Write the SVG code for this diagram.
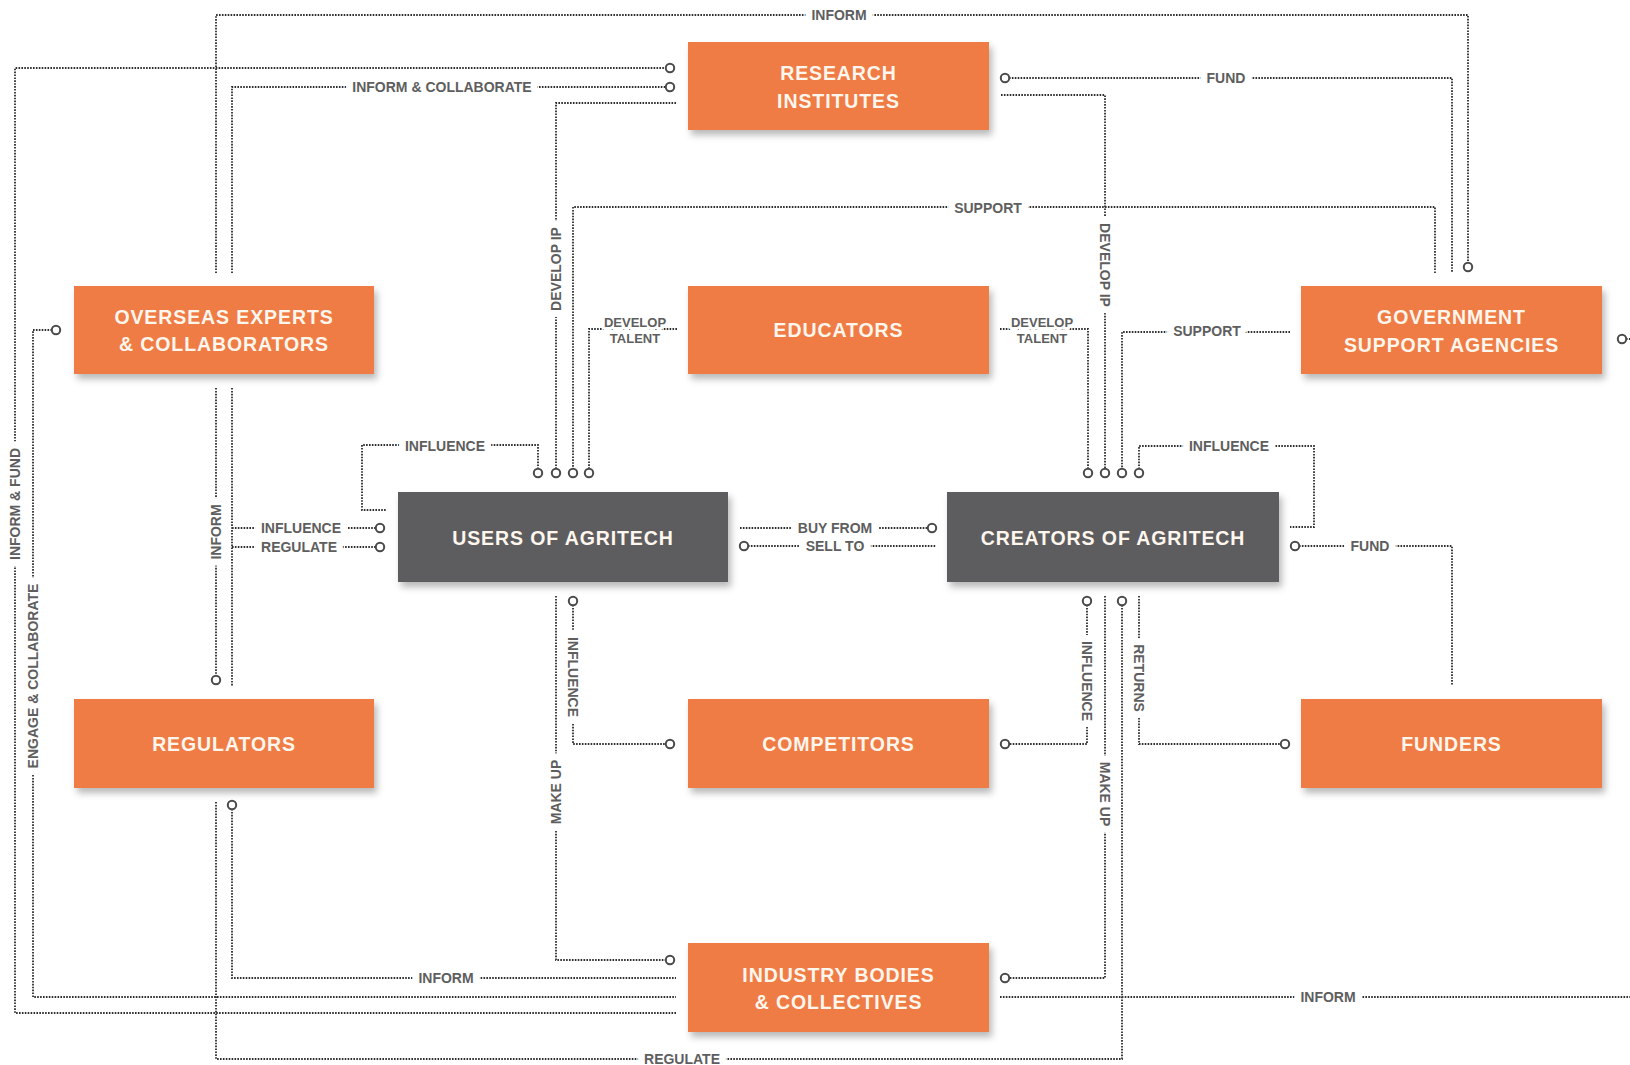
<svg xmlns="http://www.w3.org/2000/svg" width="1630" height="1065" viewBox="0 0 1630 1065">
<defs>
<filter id="sh" x="-10%" y="-20%" width="125%" height="150%">
<feDropShadow dx="3" dy="5" stdDeviation="3.5" flood-color="#000" flood-opacity="0.28"/>
</filter>
<style>
.box{fill:#F07B44;filter:url(#sh)}
.dark{fill:#5D5D60;filter:url(#sh)}
.nt{font-family:"Liberation Sans",Arial,sans-serif;font-weight:bold;font-size:19.5px;fill:#FFF6EE;text-anchor:middle;letter-spacing:0.9px}
.ln{fill:none;stroke:#2e2e2e;stroke-width:1.8;stroke-dasharray:1.6 1.3}
.dot{fill:#fff;stroke:#4a4a4a;stroke-width:2}
.lb{font-family:"Liberation Sans",Arial,sans-serif;font-weight:bold;font-size:14px;fill:#5e5e5e;text-anchor:middle;dominant-baseline:central;paint-order:stroke;stroke:#fff;stroke-width:14px;stroke-linejoin:round}
.lb2{font-size:13px;stroke-width:6px}
</style>
</defs>
<rect width="1630" height="1065" fill="#fff"/>

<g id="connectors">
<path class="ln" d="M216 273 V15 H1468 V263"/>
<path class="ln" d="M232 273 V87 H666"/>
<path class="ln" d="M676 1013 H15 V68 H666"/>
<path class="ln" d="M52 330 H33 V997 H676"/>
<path class="ln" d="M216 388 V676"/>
<path class="ln" d="M232 388 V686"/>
<path class="ln" d="M232 528 H376"/>
<path class="ln" d="M232 547 H376"/>
<path class="ln" d="M232 809 V978 H676"/>
<path class="ln" d="M216 802 V1059 H1122 V605"/>
<path class="ln" d="M1009 78 H1452 V273"/>
<path class="ln" d="M1435 273 V207 H573 V469"/>
<path class="ln" d="M1001 95 H1105 V469"/>
<path class="ln" d="M676 103 H556 V469"/>
<path class="ln" d="M677 329 H589 V469"/>
<path class="ln" d="M1000 329 H1088 V469"/>
<path class="ln" d="M1290 332 H1122 V469"/>
<path class="ln" d="M538 469 V445 H362 V510 H386"/>
<path class="ln" d="M1139 469 V446 H1314 V527 H1290"/>
<path class="ln" d="M740 528 H928"/>
<path class="ln" d="M748 546 H936"/>
<path class="ln" d="M1299 546 H1452 V686"/>
<path class="ln" d="M573 605 V744 H666"/>
<path class="ln" d="M556 596 V960 H666"/>
<path class="ln" d="M1087 605 V744 H1009"/>
<path class="ln" d="M1105 596 V978 H1009"/>
<path class="ln" d="M1139 596 V744 H1281"/>
<path class="ln" d="M1000 997 H1630"/>
<path class="ln" d="M1626 339 H1630"/>

<circle class="dot" cx="1468" cy="267" r="4.2"/>
<circle class="dot" cx="670" cy="87" r="4.2"/>
<circle class="dot" cx="670" cy="68" r="4.2"/>
<circle class="dot" cx="56" cy="330" r="4.2"/>
<circle class="dot" cx="216" cy="680" r="4.2"/>
<circle class="dot" cx="380" cy="528" r="4.2"/>
<circle class="dot" cx="380" cy="547" r="4.2"/>
<circle class="dot" cx="232" cy="805" r="4.2"/>
<circle class="dot" cx="1122" cy="601" r="4.2"/>
<circle class="dot" cx="1005" cy="78" r="4.2"/>
<circle class="dot" cx="538" cy="473" r="4.2"/>
<circle class="dot" cx="556" cy="473" r="4.2"/>
<circle class="dot" cx="573" cy="473" r="4.2"/>
<circle class="dot" cx="589" cy="473" r="4.2"/>
<circle class="dot" cx="1088" cy="473" r="4.2"/>
<circle class="dot" cx="1105" cy="473" r="4.2"/>
<circle class="dot" cx="1122" cy="473" r="4.2"/>
<circle class="dot" cx="1139" cy="473" r="4.2"/>
<circle class="dot" cx="932" cy="528" r="4.2"/>
<circle class="dot" cx="744" cy="546" r="4.2"/>
<circle class="dot" cx="1295" cy="546" r="4.2"/>
<circle class="dot" cx="573" cy="601" r="4.2"/>
<circle class="dot" cx="670" cy="744" r="4.2"/>
<circle class="dot" cx="670" cy="960" r="4.2"/>
<circle class="dot" cx="1087" cy="601" r="4.2"/>
<circle class="dot" cx="1005" cy="744" r="4.2"/>
<circle class="dot" cx="1005" cy="978" r="4.2"/>
<circle class="dot" cx="1285" cy="744" r="4.2"/>
<circle class="dot" cx="1622" cy="339" r="4.2"/>

<text class="lb" x="839" y="15">INFORM</text>
<text class="lb" x="442" y="87">INFORM &amp; COLLABORATE</text>
<text class="lb" x="1226" y="78">FUND</text>
<text class="lb" x="988" y="208">SUPPORT</text>
<text class="lb" transform="translate(556 269) rotate(-90)">DEVELOP IP</text>
<text class="lb" transform="translate(1105 265) rotate(90)">DEVELOP IP</text>
<text class="lb lb2" x="635" y="322">DEVELOP</text>
<text class="lb lb2" x="635" y="338">TALENT</text>
<text class="lb lb2" x="1042" y="322">DEVELOP</text>
<text class="lb lb2" x="1042" y="338">TALENT</text>
<text class="lb" x="1207" y="331">SUPPORT</text>
<text class="lb" x="445" y="446">INFLUENCE</text>
<text class="lb" x="1229" y="446">INFLUENCE</text>
<text class="lb" transform="translate(15 504) rotate(-90)">INFORM &amp; FUND</text>
<text class="lb" transform="translate(33 676) rotate(-90)">ENGAGE &amp; COLLABORATE</text>
<text class="lb" transform="translate(216 532) rotate(-90)">INFORM</text>
<text class="lb" x="301" y="528">INFLUENCE</text>
<text class="lb" x="299" y="547">REGULATE</text>
<text class="lb" x="835" y="528">BUY FROM</text>
<text class="lb" x="835" y="546">SELL TO</text>
<text class="lb" x="1370" y="546">FUND</text>
<text class="lb" transform="translate(573 677) rotate(90)">INFLUENCE</text>
<text class="lb" transform="translate(556 792) rotate(-90)">MAKE UP</text>
<text class="lb" transform="translate(1087 681) rotate(90)">INFLUENCE</text>
<text class="lb" transform="translate(1105 794) rotate(90)">MAKE UP</text>
<text class="lb" transform="translate(1139 678) rotate(90)">RETURNS</text>
<text class="lb" x="446" y="978">INFORM</text>
<text class="lb" x="682" y="1059">REGULATE</text>
<text class="lb" x="1328" y="997">INFORM</text>
</g>

<g id="n-research"><rect class="box" x="688" y="42" width="301" height="88"/>
<text class="nt"><tspan x="838.5" y="79.5">RESEARCH</tspan><tspan x="838.5" y="108">INSTITUTES</tspan></text></g>
<g id="n-overseas"><rect class="box" x="74" y="286" width="300" height="88"/>
<text class="nt"><tspan x="224" y="323.5">OVERSEAS EXPERTS</tspan><tspan x="224" y="350.5">&amp; COLLABORATORS</tspan></text></g>
<g id="n-educators"><rect class="box" x="688" y="286" width="301" height="88"/>
<text class="nt" x="838.5" y="337">EDUCATORS</text></g>
<g id="n-government"><rect class="box" x="1301" y="286" width="301" height="88"/>
<text class="nt"><tspan x="1451.5" y="323.5">GOVERNMENT</tspan><tspan x="1451.5" y="352">SUPPORT AGENCIES</tspan></text></g>
<g id="n-users"><rect class="dark" x="398" y="492" width="330" height="90"/>
<text class="nt" x="563" y="545">USERS OF AGRITECH</text></g>
<g id="n-creators"><rect class="dark" x="947" y="492" width="332" height="90"/>
<text class="nt" x="1113" y="545">CREATORS OF AGRITECH</text></g>
<g id="n-regulators"><rect class="box" x="74" y="699" width="300" height="89"/>
<text class="nt" x="224" y="751">REGULATORS</text></g>
<g id="n-competitors"><rect class="box" x="688" y="699" width="301" height="89"/>
<text class="nt" x="838.5" y="751">COMPETITORS</text></g>
<g id="n-funders"><rect class="box" x="1301" y="699" width="301" height="89"/>
<text class="nt" x="1451.5" y="751">FUNDERS</text></g>
<g id="n-industry"><rect class="box" x="688" y="943" width="301" height="89"/>
<text class="nt"><tspan x="838.5" y="982">INDUSTRY BODIES</tspan><tspan x="838.5" y="1008.5">&amp; COLLECTIVES</tspan></text></g>
</svg>
